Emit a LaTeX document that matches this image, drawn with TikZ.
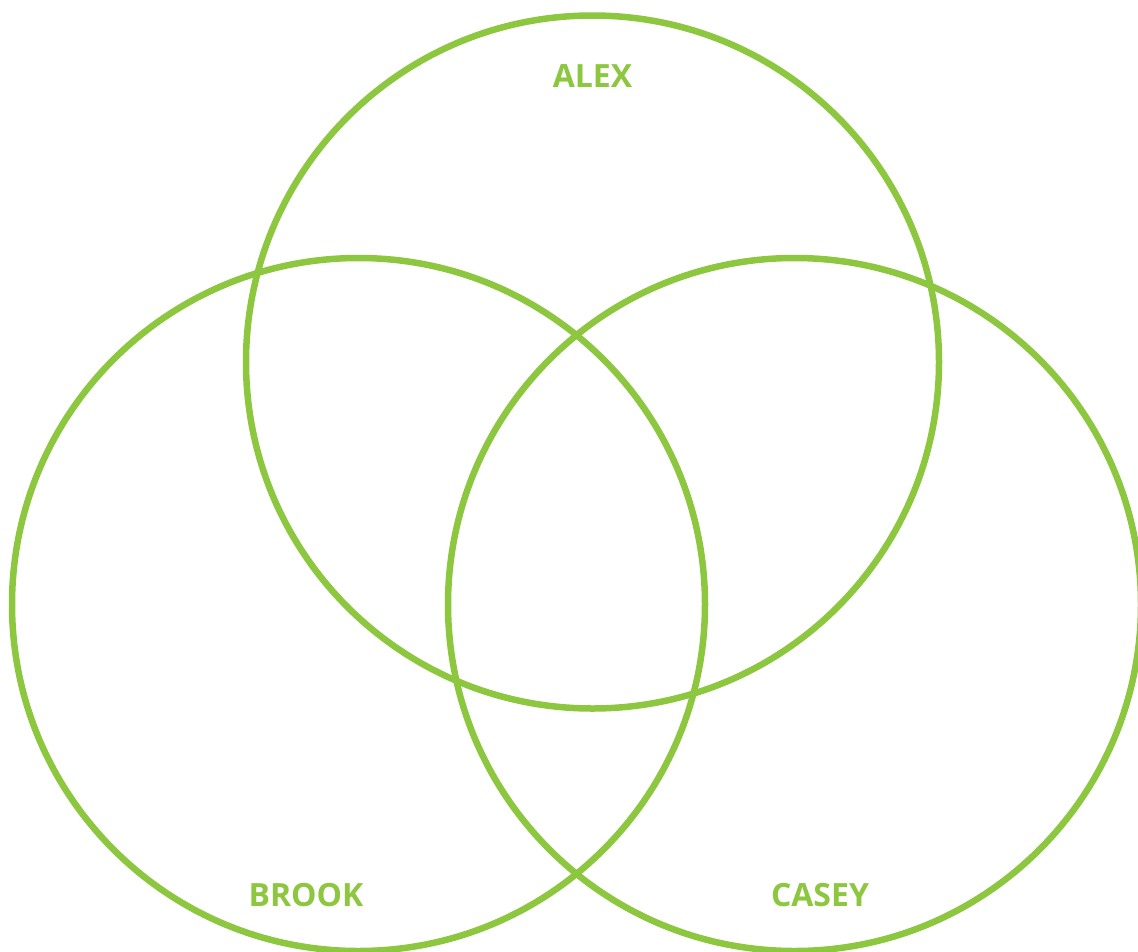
\documentclass[tikz,border=0pt]{standalone}
\usepackage{fontspec}
\setmainfont{Open Sans}
\definecolor{vgreen}{RGB}{141,198,63}
\begin{document}
\begin{tikzpicture}[x=1pt,y=-1pt,
  ring/.style={circle,draw=vgreen,line width=6.5pt,minimum size=693pt,inner sep=0pt},
  lab/.style={text=vgreen,font=\bfseries\fontsize{32}{32}\selectfont,inner sep=0pt}]
\useasboundingbox (0,0) rectangle (1138,951);
\clip (0,0) rectangle (1138,951);
\node[ring] (alex) at (592.5,362) {};
\node[ring] (brook) at (358.5,604.5) {};
\node[ring] (casey) at (794.5,604.5) {};
\node[lab] (alext) at (592.5,76) {ALEX};
\node[lab] (brookt) at (306,895) {BROOK};
\node[lab] (caseyt) at (820,895) {CASEY};
\end{tikzpicture}
\end{document}
